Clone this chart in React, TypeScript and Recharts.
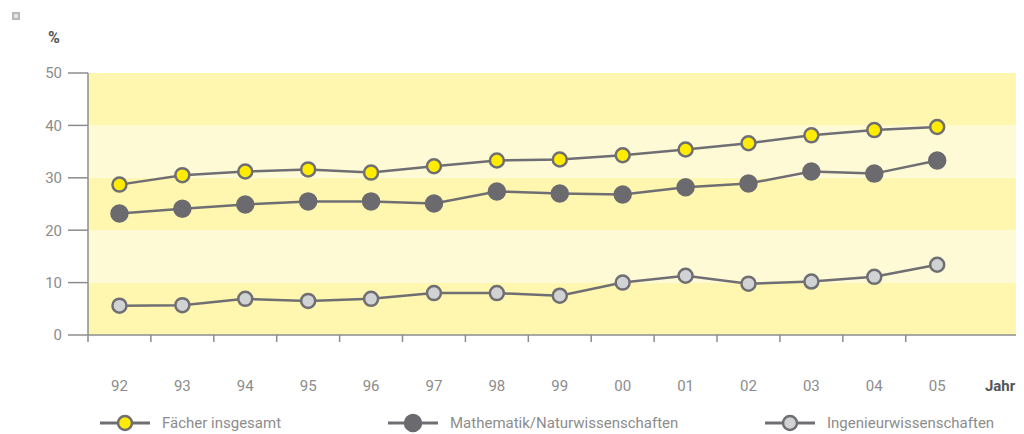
import React from 'react';
import { LineChart, Line, XAxis, YAxis, ReferenceArea, Legend, Customized } from 'recharts';

const years = ['92', '93', '94', '95', '96', '97', '98', '99', '00', '01', '02', '03', '04', '05'];
const xLabels = [...years, 'Jahr'];
const faecher = [28.7, 30.5, 31.2, 31.6, 31.0, 32.2, 33.3, 33.5, 34.3, 35.4, 36.6, 38.1, 39.1, 39.7];
const mathe = [23.2, 24.1, 24.9, 25.5, 25.5, 25.1, 27.4, 27.0, 26.8, 28.2, 28.9, 31.2, 30.8, 33.3];
const ingenieur = [5.6, 5.7, 6.9, 6.5, 6.9, 8.0, 8.0, 7.5, 10.0, 11.3, 9.8, 10.2, 11.1, 13.4];
const yTicks = [0, 10, 20, 30, 40, 50];
const bands = [
  { y1: 0, y2: 10, dark: true },
  { y1: 10, y2: 20, dark: false },
  { y1: 20, y2: 30, dark: true },
  { y1: 30, y2: 40, dark: false },
  { y1: 40, y2: 50, dark: true },
];

const data = years.map((y, i) => ({ i, year: y, faecher: faecher[i], mathe: mathe[i], ingenieur: ingenieur[i] }));
const labelTicks = xLabels.map((_, i) => i);
const lineTicks = years.map((_, i) => i - 0.5);

const LINE = '#6f6f73';
const YELLOW = '#ffec00';
const DARK = '#6b6b6f';
const LIGHT = '#d1d2d4';
const AXIS = '#8c8c8c';
const FONT = 'Roboto, "Liberation Sans", Arial, sans-serif';

const series = [
  { key: 'faecher', name: 'Fächer insgesamt', fill: YELLOW, r: 7 },
  { key: 'mathe', name: 'Mathematik/Naturwissenschaften', fill: DARK, r: 8 },
  { key: 'ingenieur', name: 'Ingenieurwissenschaften', fill: LIGHT, r: 7 },
];
const legendLefts = [92, 380, 757];

const XTick = (props: any) => {
  const { x, y, payload } = props;
  const label = xLabels[payload.value];
  const isJahr = label === 'Jahr';
  return (
    <text x={x} y={y} dy={11} textAnchor="middle" fontSize={15} fontFamily={FONT}
      fill={isJahr ? '#555' : AXIS} fontWeight={isJahr ? 'bold' : 'normal'}>
      {label}
    </text>
  );
};

const LegendContent = () => (
  <div style={{ position: 'relative', height: 24, width: 1016 }}>
    {series.map((s, idx) => (
      <div key={s.key} style={{ position: 'absolute', left: legendLefts[idx], top: 0, display: 'flex', alignItems: 'center' }}>
        <svg width={52} height={20}>
          <line x1={0} y1={10} x2={50} y2={10} stroke={LINE} strokeWidth={3} />
          <circle cx={25} cy={10} r={s.r} fill={s.fill} stroke={s.key === 'mathe' ? DARK : LINE} strokeWidth={2.5} />
        </svg>
        <span style={{ marginLeft: 10, fontFamily: FONT, fontSize: 15, color: AXIS }}>{s.name}</span>
      </div>
    ))}
  </div>
);

const Percent = () => (
  <text x={40} y={35} fontSize={16} fontWeight="bold" fill="#555" fontFamily={FONT}>%</text>
);

export default function App() {
  return (
    <div style={{ position: 'relative', width: 1016, height: 426 }}>
      <div style={{ position: 'absolute', left: 4, top: 4, width: 4, height: 4, border: '2px solid #b8b8b8', background: '#e4e4e4' }} />
      <LineChart width={1016} height={426} data={data} margin={{ top: 65, right: 0, bottom: 0, left: 0 }}>
        {bands.map((b) => (
          <ReferenceArea key={b.y1} y1={b.y1} y2={b.y2} x1={-0.5} x2={14.38} xAxisId="labels"
            fill={b.dark ? '#fff6b0' : '#fffad6'} fillOpacity={1} stroke="none" ifOverflow="hidden" />
        ))}
        <XAxis xAxisId="labels" type="number" dataKey="i" domain={[-0.5, 14.38]} allowDataOverflow
          ticks={labelTicks} tick={<XTick />} tickSize={0} tickMargin={44} height={98}
          axisLine={false} tickLine={false} interval={0} />
        <XAxis xAxisId="axisTicks" type="number" dataKey="i" domain={[-0.5, 14.38]} allowDataOverflow
          ticks={lineTicks} tickFormatter={() => ''} tickSize={7} height={1}
          axisLine={{ stroke: AXIS, strokeWidth: 1.5 }} tickLine={{ stroke: AXIS, strokeWidth: 1.5 }} />
        <YAxis domain={[0, 50]} ticks={yTicks} width={80} tickSize={20} tickMargin={6}
          axisLine={{ stroke: AXIS, strokeWidth: 1.5 }} tickLine={{ stroke: AXIS, strokeWidth: 1.5 }}
          tick={{ fill: AXIS, fontSize: 15, fontFamily: FONT }} />
        {series.map((s) => (
          <Line key={s.key} xAxisId="labels" dataKey={s.key} name={s.name} stroke={LINE} strokeWidth={2.5}
            isAnimationActive={false}
            dot={{ r: s.r, fill: s.fill, stroke: s.key === 'mathe' ? DARK : LINE, strokeWidth: 2.5, fillOpacity: 1 }}
            activeDot={false} />
        ))}
        <Customized component={Percent} />
        <Legend layout="horizontal" verticalAlign="middle" align="center" content={<LegendContent />}
          wrapperStyle={{ top: 405, left: 0, width: 1016 }} />
      </LineChart>
    </div>
  );
}
